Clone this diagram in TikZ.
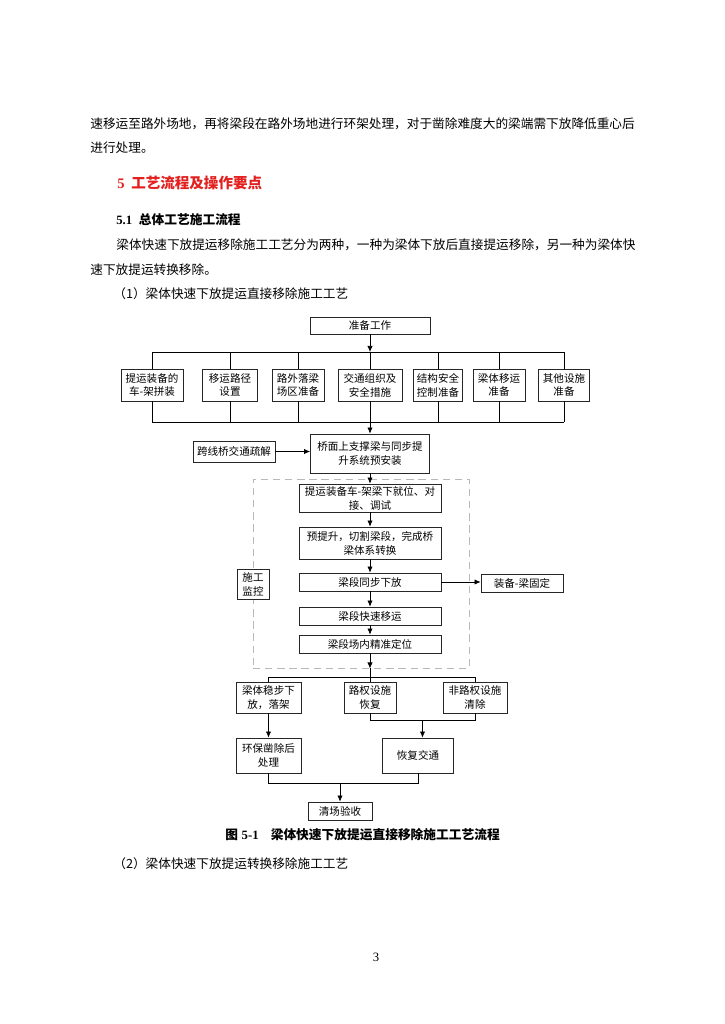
\documentclass[tikz,border=0pt]{standalone}
\usepackage{fontspec}
\setmainfont{Liberation Serif}
\newfontfamily\cjk{Noto Sans CJK SC}
\usetikzlibrary{arrows.meta,calc}
\definecolor{headred}{RGB}{226,32,30}

\tikzset{
  box/.style 2 args={draw=black!85, line width=0.6pt, fill=white, align=center, inner sep=1pt,
    minimum width=#1*0.029cm, minimum height=#2*0.029cm,
    font=\cjk\fontsize{8.7}{11.5}\selectfont},
  frame/.style={draw=black!28, line width=0.8pt, dash pattern=on 6pt off 4pt,
    minimum width=216*0.029cm, minimum height=189*0.029cm},
  txt/.style={anchor=west, inner sep=0pt, font=\cjk\fontsize{10.45}{12}\selectfont},
  arr/.style={-{Latex[length=5pt,width=4.4pt]}},
  every path/.style={line width=0.6pt}
}

\begin{document}
\begin{tikzpicture}[x=0.029cm, y=-0.029cm]
\fill[white] (0,0) rectangle (724,1024);
\useasboundingbox (0,0) rectangle (724,1024);

% Texto de la pagina
\node[txt] (l1) at (90,124) {速移运至路外场地，再将梁段在路外场地进行环架处理，对于凿除难度大的梁端需下放降低重心后};
\node[txt] (l2) at (90,148) {进行处理。};
\node[txt, text=headred, font=\cjk\bfseries\fontsize{12}{14}\selectfont] (h5) at (117,183)
	{{\rmfamily\bfseries 5}\hspace{5.5pt}工艺流程及操作要点};
\node[txt, font=\cjk\bfseries\fontsize{10.5}{12}\selectfont] (h51) at (116,220)
	{{\rmfamily\bfseries 5.1}\hspace{5.5pt}总体工艺施工流程};
\node[txt] (p1) at (116,245) {梁体快速下放提运移除施工工艺分为两种，一种为梁体下放后直接提运移除，另一种为梁体快};
\node[txt] (p2) at (90,270) {速下放提运转换移除。};
\node[txt] (it1) at (113,294) {（1）梁体快速下放提运直接移除施工工艺};

% Preparacion
\node[box={120}{17}] (prep) at (370,325.5) {准备工作};
\node[box={62}{32}] (r1) at (152,385) {提运装备的\\车-架拼装};
\node[box={55}{32}] (r2) at (230,385) {移运路径\\设置};
\node[box={52}{32}] (r3) at (298,385) {路外落梁\\场区准备};
\node[box={64}{32}] (r4) at (370,385) {交通组织及\\安全措施};
\node[box={49}{32}] (r5) at (438,385) {结构安全\\控制准备};
\node[box={52}{32}] (r6) at (499,385) {梁体移运\\准备};
\node[box={51}{32}] (r7) at (564,385) {其他设施\\准备};

\coordinate (tb) at (0,352);
\coordinate (bb) at (0,422);
\draw[arr] (prep) -- (prep.south |- tb);
\draw (r1.north |- tb) -- (r7.north |- tb);
\draw (r1.south |- bb) -- (r7.south |- bb);
\foreach \r in {r1,r2,r3,r4,r5,r6,r7}
	\draw (\r.north) -- (\r.north |- tb) (\r.south) -- (\r.south |- bb);

\node[box={119}{39}] (install) at (370,453.5) {桥面上支撑梁与同步提\\升系统预安装};
\node[box={82}{21}] (detour) at (234,451.5) {跨线桥交通疏解};
\draw[arr] (r4) -- (install);
\draw[arr] (detour.east) -- (detour.east -| install.west);

% Zona de monitoreo
\node[frame] (frame) at (361,573.5) {};
\node[box={142}{28}] (s1) at (370,498) {提运装备车-架梁下就位、对\\接、调试};
\node[box={142}{32}] (s2) at (370,543) {预提升，切割梁段，完成桥\\梁体系转换};
\node[box={142}{18}] (s3) at (370,582) {梁段同步下放};
\node[box={142}{18}] (s4) at (370,616) {梁段快速移运};
\node[box={142}{18}] (s5) at (370,644) {梁段场内精准定位};
\node[box={82}{18}] (fix) at (522,583) {装备-梁固定};
\node[box={32}{30}] (monitor) at (253,584) {施工\\监控};

\draw[arr] (install) -- (s1);
\draw[arr] (s1) -- (s2);
\draw[arr] (s2) -- (s3);
\draw[arr] (s3) -- (s4);
\draw[arr] (s4) -- (s5);
\draw[arr] (s3) -- (s3 -| fix.west);

% Cierre
\node[box={65}{31}] (b1) at (268.5,697.5) {梁体稳步下\\放，落架};
\node[box={52}{31}] (b2) at (370,697.5) {路权设施\\恢复};
\node[box={64}{31}] (b3) at (475,697.5) {非路权设施\\清除};
\node[box={65}{35}] (env) at (268.5,755.5) {环保凿除后\\处理};
\node[box={71}{35}] (restore) at (418,755.5) {恢复交通};
\node[box={64}{18}] (accept) at (340,811) {清场验收};

\coordinate (br) at (0,677);
\coordinate (jn) at (0,720);
\coordinate (mg) at (0,783);
\draw[arr] (s5) -- (s5 |- frame.south);
\draw (s5 |- frame.south) -- (b2.north);
\draw (b1.north) -- (b1.north |- br) -- (b3.north |- br) -- (b3.north);
\draw[arr] (b1) -- (env);
\draw (b2.south) -- (b2.south |- jn) -- (b3.south |- jn) -- (b3.south);
\coordinate (jm) at ($(b2.south |- jn)!0.5!(b3.south |- jn)$);
\draw[arr] (jm) -- (jm |- restore.north);
\draw (env.south) -- (env.south |- mg) -- (restore.south |- mg) -- (restore.south);
\draw[arr] (accept.north |- mg) -- (accept.north);

% Pie de figura
\node[txt, font=\cjk\bfseries\fontsize{10.5}{12}\selectfont] (cap) at (225,835)
	{图\hspace{3pt}{\rmfamily\bfseries 5-1}\hspace{10pt}梁体快速下放提运直接移除施工工艺流程};
\node[txt] (it2) at (113,864) {（2）梁体快速下放提运转换移除施工工艺};
\node[font=\fontsize{10.5}{12}\selectfont, inner sep=0pt] (pg) at (376,957) {3};
\end{tikzpicture}
\end{document}
